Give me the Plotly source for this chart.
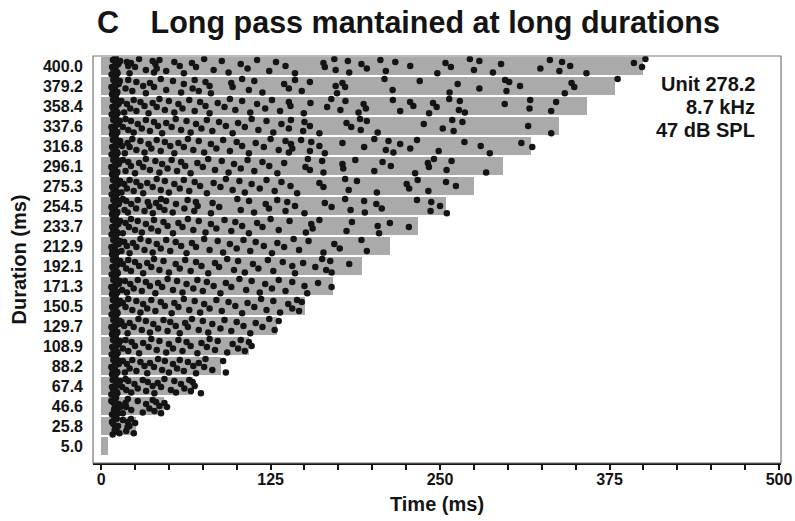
import plotly.graph_objects as go

# ---- data ----
durations = [5.0, 25.8, 46.6, 67.4, 88.2, 108.9, 129.7, 150.5, 171.3, 192.1,
             212.9, 233.7, 254.5, 275.3, 296.1, 316.8, 337.6, 358.4, 379.2, 400.0]
duration_labels = ["5.0", "25.8", "46.6", "67.4", "88.2", "108.9", "129.7", "150.5",
                   "171.3", "192.1", "212.9", "233.7", "254.5", "275.3", "296.1",
                   "316.8", "337.6", "358.4", "379.2", "400.0"]

spk_005 = []
spk_026 = [8.5, 9.5, 10.5, 11, 12, 9, 10, 11.5, 12.5, 13.5, 8, 10.8, 16, 18.5, 19.7,
           20.9, 24.1, 25.1, 19.5, 22]
spk_047 = [8, 9, 10, 11, 12, 13, 9.5, 10.5, 11.5, 12.5, 8.5, 14, 7.5, 10.2, 15.5, 16,
           18, 18.5, 19.7, 22.2, 27, 30.7, 33.2, 35.6, 38, 39.3, 40.5, 43, 44.2, 46.7, 48.6]
spk_067 = [7.5, 8.5, 9.5, 10.5, 11.5, 12.5, 9, 10, 11, 12, 13, 8, 14, 10.7, 15.5, 18,
           18.5, 20, 22.2, 24.6, 27, 30.7, 33.2, 34.4, 38, 39.3, 41.7, 44.2, 46.7, 51.5,
           54, 55.2, 58.9, 61.4, 65, 66.2, 67.5, 69, 73.6]
spk_088 = [8, 9, 10, 11, 12, 13, 8.5, 9.5, 10.5, 11.5, 12.5, 7.5, 13.5, 10.2, 16, 17.5,
           19, 21, 23, 26, 29, 32, 34, 36, 39, 42, 45, 47, 50, 53, 56, 58, 61, 64, 68,
           70, 72, 76, 77, 82, 90, 92]
spk_109 = [7.8, 8.8, 9.8, 10.8, 11.8, 12.8, 9.2, 10.2, 11.2, 12.2, 13.2, 8.2, 14, 10.5,
           16, 18, 20, 22.5, 25, 28, 31, 35, 37, 41, 43, 48, 50, 53, 57, 60, 63, 66, 71,
           74, 78, 80, 84, 86, 93, 97, 101, 103, 106, 109, 111]
spk_130 = [8, 9, 10, 11, 12, 13, 8.6, 9.6, 10.6, 11.6, 12.6, 7.6, 13.8, 10.3, 15, 17,
           19.5, 21, 24, 27.5, 30, 33, 36, 38.5, 42, 46, 49, 51, 55, 58, 62, 64, 67, 72,
           75, 79, 82, 88, 91, 96, 100, 105, 110, 114, 119, 124, 128, 131]
spk_151 = [7.7, 8.7, 9.7, 10.7, 11.7, 12.7, 9.1, 10.1, 11.1, 12.1, 13.1, 8.1, 14, 10.4,
           16, 18, 20, 23, 26, 29, 31, 34, 37, 40, 44, 47, 52, 54, 57, 61, 65, 69, 73,
           76, 80, 85, 89, 94, 99, 104, 108, 113, 118, 122, 127, 132, 138, 141, 144.5,
           146, 148]
spk_171 = [8, 9, 10, 11, 12, 13, 8.5, 9.5, 10.5, 11.5, 12.5, 7.5, 13.7, 10.6, 15.5,
           17.5, 19, 21.5, 24, 27, 30, 33, 36, 40, 42, 45, 49, 53, 56, 60, 63, 68, 71,
           75, 78, 83, 88, 92, 96, 102, 107, 111, 117, 121, 126, 131, 136, 141, 150,
           152, 160, 170]
spk_192 = [7.8, 8.8, 9.8, 10.8, 11.8, 12.8, 9.3, 10.3, 11.3, 12.3, 13.3, 8.3, 14, 10.6,
           16, 18.5, 20, 22, 25, 28, 31, 34, 37, 39, 43, 46, 50, 55, 58, 62, 66, 70, 74,
           79, 84, 87, 93, 98, 101, 106, 112, 116, 123, 127, 134, 141, 143, 149, 158,
           163, 166, 169, 170, 183]
spk_213 = [8, 9, 10, 11, 12, 13, 8.4, 9.4, 10.4, 11.4, 12.4, 7.6, 13.9, 10.7, 15, 17,
           19, 21, 23.5, 26, 29, 32, 35, 38, 41, 44, 48, 51, 55, 59, 63, 67, 70, 76, 80,
           86, 90, 95, 100, 105, 110, 114, 120, 126, 130, 135, 142, 146, 153, 164, 172,
           176, 192, 196]
spk_234 = [7.7, 8.7, 9.7, 10.7, 11.7, 12.7, 9, 10, 11, 12, 13, 8.2, 14, 10.4, 16, 18,
           20.5, 22, 25, 27, 30, 33, 37, 39, 42, 46, 49, 53, 57, 60, 64, 68, 72, 77, 81,
           85, 91, 96, 99, 104, 109, 115, 119, 125, 131, 139, 151, 155, 156, 161, 181,
           185, 204, 205, 213, 227]
spk_255 = [8, 9, 10, 11, 12, 13, 8.6, 9.6, 10.6, 11.6, 12.6, 7.6, 13.6, 10.2, 16, 17.3,
           18.5, 19.7, 22.2, 25.8, 27, 32, 34.4, 35.6, 38.1, 40.5, 43, 44.2, 46.7, 47.9,
           52.8, 55.2, 61.4, 63.8, 68.7, 69.9, 71.2, 81, 82.2, 87.1, 100.5, 103, 109.1,
           112.8, 121.4, 123.8, 129.9, 136, 137.3, 143, 150, 165, 170, 180, 184, 194,
           194.5, 203, 207, 233, 243, 243.5, 250, 255]
spk_275 = [7.8, 8.8, 9.8, 10.8, 11.8, 12.8, 9.2, 10.2, 11.2, 12.2, 13.2, 8.2, 14, 10.5,
           15, 17, 19, 21, 24, 26, 29, 31, 34, 38, 41, 44, 47, 50, 54, 58, 61, 65, 69,
           73, 78, 83, 88, 92, 97, 102, 106, 111, 117, 122, 128, 133, 139.7, 144.6, 161,
           164, 180, 182.6, 188.7, 203.4, 225.4, 227.2, 233.5, 241.4, 254.4, 261.7]
spk_296 = [8, 9, 10, 11, 12, 13, 8.5, 9.5, 10.5, 11.5, 12.5, 7.5, 13.8, 10.3, 16, 18,
           20, 22, 25, 28, 31, 33, 36, 40, 43, 45, 49, 52, 56, 59, 62, 66, 71, 75, 79,
           84, 89, 94, 98, 103, 108, 113, 119, 124, 130, 135, 150.7, 152.5, 154, 163,
           164, 178, 178.6, 187.5, 201.5, 207.6, 213.7, 231.6, 241, 241.8, 245.5, 254.8,
           258.5, 284]
spk_317 = [7.7, 8.7, 9.7, 10.7, 11.7, 12.7, 9.1, 10.1, 11.1, 12.1, 13.1, 8.1, 14, 10.6,
           15.5, 17.5, 19.5, 21, 23, 26, 29, 32, 35, 37, 41, 44, 47, 51, 54, 57, 61, 64,
           68, 72, 76, 81, 85, 90, 95, 100, 104, 109, 114, 120, 125, 131, 136, 138.5,
           140, 141, 147.5, 154, 155, 161, 165, 178, 194, 201.5, 210, 212, 215.6, 220.6,
           228, 233, 249, 268, 280, 286.7, 310, 318]
spk_338 = [8, 9, 10, 11, 12, 13, 8.4, 9.4, 10.4, 11.4, 12.4, 7.6, 13.7, 10.8, 16, 18,
           20, 22, 24, 27, 30, 33, 36, 39, 42, 45, 48, 52, 55, 59, 63, 66, 70, 74, 78,
           82, 87, 92, 97, 101, 106, 111, 116, 122, 127, 133, 138.5, 140, 149, 150, 154,
           161, 181, 184.5, 191, 191.5, 196, 204, 238, 252, 259, 260, 266.5, 315, 332]
spk_358 = [7.8, 8.8, 9.8, 10.8, 11.8, 12.8, 9.2, 10.2, 11.2, 12.2, 13.2, 8.3, 14, 10.4,
           15, 17, 19, 21.5, 24, 26, 29, 32, 35, 38, 41, 43, 47, 50, 54, 57, 60, 65, 69,
           73, 77, 80, 86, 91, 95, 99, 104, 110, 115, 121, 126, 132, 138.5, 139.7, 149.5,
           154.4, 166.7, 169.8, 176.5, 180.2, 189.9, 193.6, 195.3, 215.2, 220.6, 227.9,
           230.3, 241.9, 244.8, 247.5, 256.8, 263.9, 264.6, 268.3, 297.7, 316, 316.5,
           332, 335.6]
spk_379 = [8, 9, 10, 11, 12, 13, 8.6, 9.6, 10.6, 11.6, 12.6, 7.6, 13.8, 10.1, 18, 20,
           23, 26, 31, 33, 36, 39, 44, 48, 53, 59, 61, 67.5, 69, 72, 77, 80, 81, 96, 97,
           104, 109, 113, 119, 135, 138.5, 143, 148, 154, 173, 174, 178, 180, 209, 215,
           235, 257, 263, 279, 298, 299, 301, 309, 342, 347, 349, 381]
spk_400 = [7.7, 8.7, 9.7, 10.7, 11.7, 12.7, 9.1, 10.1, 11.1, 12.1, 13.1, 8.1, 14, 10.5,
           19, 20, 21, 22, 25, 28, 33, 38, 39, 40, 41, 43, 48, 54, 58, 61, 67, 70, 76,
           83, 89, 94, 103, 108, 115, 124, 129, 136, 143, 164, 165, 172, 173, 182, 183,
           192, 196, 206, 210, 217, 228, 248, 254, 258, 272, 275, 279, 289, 295, 324,
           331, 338, 340, 346, 358, 393, 399, 401.5]

spike_rows = [spk_005, spk_026, spk_047, spk_067, spk_088, spk_109, spk_130, spk_151,
              spk_171, spk_192, spk_213, spk_234, spk_255, spk_275, spk_296, spk_317,
              spk_338, spk_358, spk_379, spk_400]

# vertical placement of trials within a row (layout, not data)
trial_offsets = [-0.33, 0.1, -0.12, 0.3, -0.25, 0.2, 0.0, -0.36, 0.15, -0.05, 0.35,
                 -0.2, 0.25]
onset_offsets = [-0.42, 0.3, -0.1, 0.42, -0.3, 0.1, -0.2, 0.36, 0.0, -0.36, 0.2,
                 -0.05, 0.25, 0.05]

row_idx = list(range(len(durations)))
sx, sy = [], []
for i, row in zip(row_idx, spike_rows):
    n_on = 0
    n_late = 0
    for t in row:
        sx.append(t)
        if t < 14.5:
            sy.append(i + onset_offsets[n_on % len(onset_offsets)])
            n_on += 1
        else:
            sy.append(i + trial_offsets[(n_late + 3 * i) % len(trial_offsets)])
            n_late += 1

FONT = "Liberation Sans, Arial, sans-serif"
INK = "#141414"

fig = go.Figure()
fig.add_trace(go.Bar(
    x=durations, y=row_idx, orientation="h", width=0.86,
    marker=dict(color="#aaaaaa", line=dict(width=0)),
    hoverinfo="skip", showlegend=False,
))
fig.add_trace(go.Scatter(
    x=sx, y=sy, mode="markers",
    marker=dict(color=INK, size=6.5, line=dict(width=0)),
    showlegend=False, hoverinfo="skip",
))

fig.update_layout(
    width=795, height=521,
    margin=dict(l=93, r=14, t=56, b=58, autoexpand=False),
    paper_bgcolor="white", plot_bgcolor="white",
    font=dict(family=FONT, color=INK),
    bargap=0,
    title=dict(
        text="<b>C\u00a0\u00a0\u00a0\u2009Long pass mantained at long durations</b>",
        font=dict(family=FONT, size=30.5, color=INK),
        x=97 / 795, xanchor="left", xref="container",
        y=1 - 22 / 521, yanchor="middle", yref="container",
    ),
    xaxis=dict(
        range=[-6, 501.5], tickvals=[0, 125, 250, 375, 500],
        ticktext=["<b>0</b>", "<b>125</b>", "<b>250</b>", "<b>375</b>", "<b>500</b>"],
        ticks="outside", ticklen=5, tickwidth=1.5, tickcolor=INK,
        minor=dict(dtick=25, tick0=0, ticks="outside", ticklen=5, tickwidth=1.5,
                   tickcolor=INK, showgrid=False),
        tickfont=dict(size=16, family=FONT, color=INK),
        ticklabelstandoff=-4,
        showline=True, linecolor=INK, linewidth=2, mirror=False,
        showgrid=False, zeroline=False,
        title=dict(text="<b>Time (ms)</b>", font=dict(size=20, family=FONT, color=INK),
                   standoff=10),
        automargin=False,
    ),
    yaxis=dict(
        range=[-0.85, 19.5], tickvals=row_idx,
        ticktext=["<b>%s</b>" % s for s in duration_labels],
        ticks="", tickfont=dict(size=16, family=FONT, color=INK),
        ticklabelstandoff=9,
        showline=False, showgrid=False, zeroline=False,
        title=dict(text="<b>Duration (ms)</b>", font=dict(size=20, family=FONT, color=INK),
                   standoff=10),
        automargin=False,
    ),
    shapes=[dict(type="rect", xref="paper", yref="paper", x0=0, x1=1, y0=0, y1=1,
                 line=dict(color="#777777", width=1.2), fillcolor="rgba(0,0,0,0)",
                 layer="above")],
)

for txt, ypx in [("Unit 278.2", 84), ("8.7 kHz", 107), ("47 dB SPL", 130)]:
    fig.add_annotation(
        text="<b>%s</b>" % txt, xref="paper", yref="paper",
        x=(757 - 93) / (795 - 93 - 14), xanchor="right",
        y=(463 - ypx) / (463 - 56), yanchor="middle",
        showarrow=False, font=dict(size=20, family=FONT, color=INK),
    )

fig.write_html("out.html")
